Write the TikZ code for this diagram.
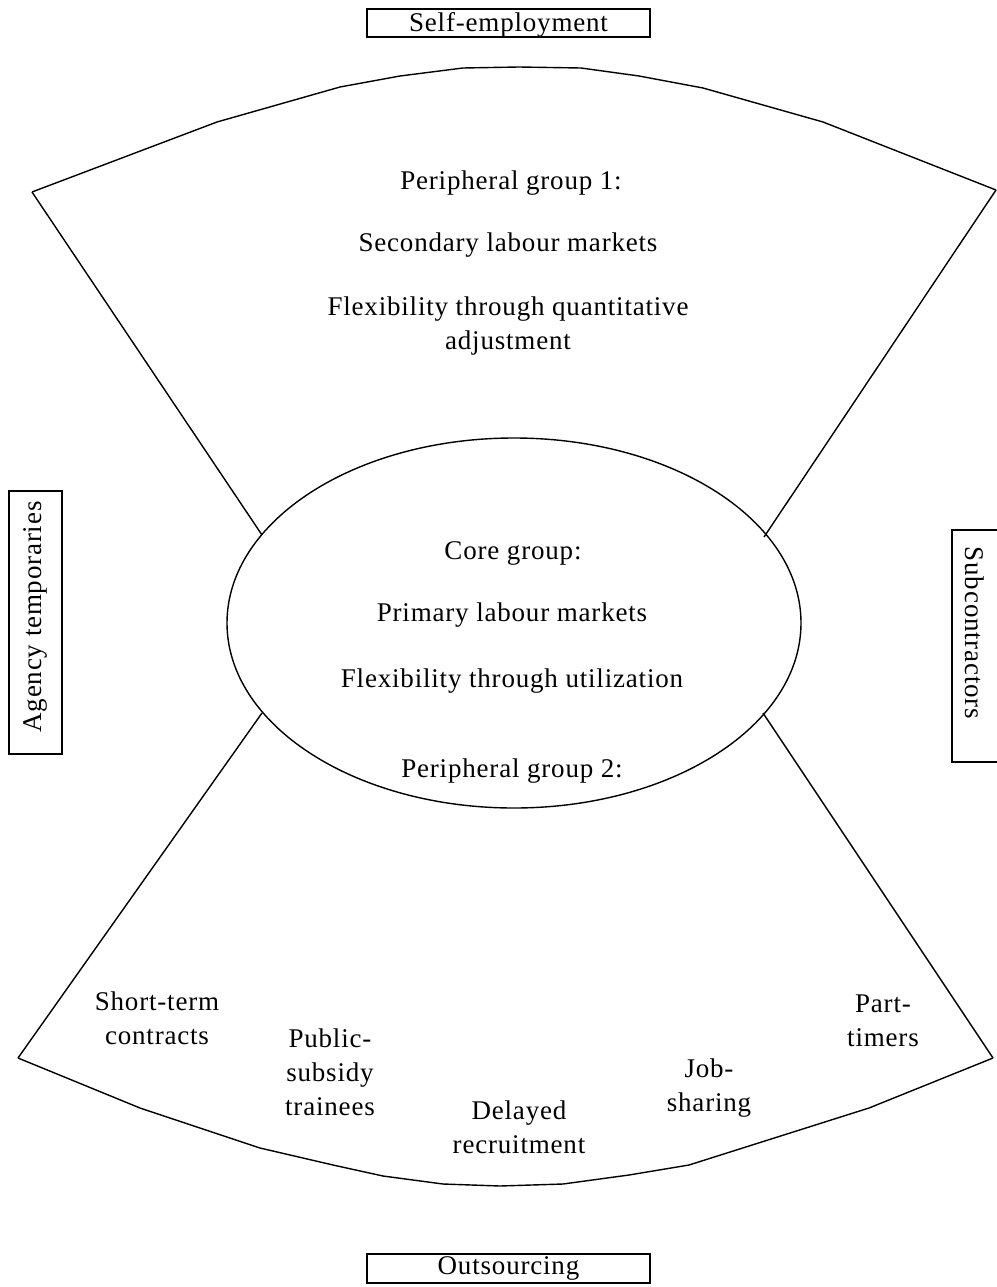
\documentclass[tikz,border=0pt]{standalone}
\usepackage{fontspec}
\setmainfont[LetterSpace=3.0]{Liberation Serif}
\usetikzlibrary{shapes.geometric}
\begin{document}
\begin{tikzpicture}[x=1pt,y=-1pt,
  lbl/.style={font=\fontsize{27}{34}\selectfont, align=center, inner sep=0pt},
  boxlbl/.style={draw, line width=1.2pt, font=\fontsize{27}{32}\selectfont, inner sep=0pt},
  ln/.style={line width=1.4pt, line join=round}]
\useasboundingbox (0,0) rectangle (996,1287);
% core ellipse
\node[ellipse, draw, line width=1.4pt, minimum width=574pt, minimum height=370pt, inner sep=0pt] (core) at (514,623) {};
% fan corners
\coordinate (tl) at (32,192);
\coordinate (tr) at (996,190);
\coordinate (bl) at (18,1058);
\coordinate (br) at (993,1058);
\coordinate (etl) at (262,535);
\coordinate (etr) at (764,537);
\coordinate (ebl) at (262,713);
\coordinate (ebr) at (763,713);
% top fan
\draw[ln] (tl) -- (217,122) -- (340,87) -- (400,76) -- (463,68) -- (519,67) -- (581,68) -- (639,76) -- (703,88) -- (823,122) -- (tr);
\draw[ln] (tl) -- (etl);
\draw[ln] (tr) -- (etr);
% bottom fan
\draw[ln] (bl) -- (140,1108) -- (260,1148) -- (333,1165) -- (383,1176) -- (443,1184) -- (500,1186) -- (563,1184) -- (629,1175) -- (689,1165) -- (869,1108) -- (br);
\draw[ln] (bl) -- (ebl);
\draw[ln] (br) -- (ebr);
% boxes
\node[boxlbl, minimum width=283pt, minimum height=28pt] (self) at (508.5,23) {};
\node[lbl] (selftxt) at (508.5,25) {Self-employment};
\node[boxlbl, minimum width=283pt, minimum height=29pt] (out) at (508.5,1268.5) {Outsourcing};
\node[boxlbl, rotate=90, minimum width=263pt, minimum height=53pt] (agency) at (35.5,622.5) {};
\node[lbl, rotate=90] (agencytxt) at (35.5,617) {Agency temporaries};
\node[boxlbl, rotate=-90, minimum width=232pt, minimum height=48pt] (sub) at (976,646) {};
\node[lbl, rotate=-90] (subtxt) at (975,633) {Subcontractors};
% texts
\node[lbl] (p1) at (511,183) {Peripheral group 1:};
\node[lbl] (slm) at (508,245) {Secondary labour markets};
\node[lbl] (fq) at (508,326) {Flexibility through quantitative\\adjustment};
\node[lbl] (cg) at (513,553) {Core group:};
\node[lbl] (plm) at (512,615) {Primary labour markets};
\node[lbl] (fu) at (512,681) {Flexibility through utilization};
\node[lbl] (p2) at (512,771) {Peripheral group 2:};
\node[lbl] (st) at (157,1018) {Short-term\\contracts};
\node[lbl] (ps) at (330,1072) {Public-\\subsidy\\trainees};
\node[lbl] (dr) at (519,1127) {Delayed\\recruitment};
\node[lbl] (js) at (709,1088) {Job-\\sharing};
\node[lbl] (pt) at (883,1021) {Part-\\timers};
\end{tikzpicture}
\end{document}
